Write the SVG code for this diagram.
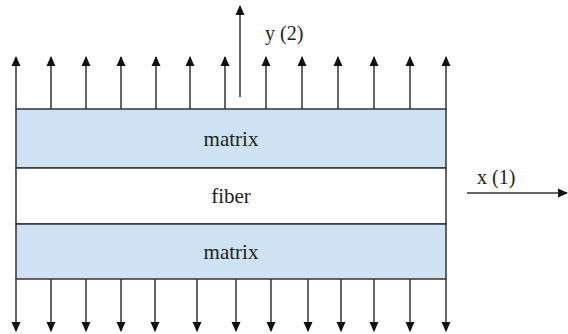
<svg xmlns="http://www.w3.org/2000/svg" width="568" height="334" viewBox="0 0 568 334">
<style>
.band{fill:#cfe2f3;stroke:#333;stroke-width:1.5}
.fib{fill:#fff;stroke:#333;stroke-width:1.5}
text{font-family:'Liberation Serif','Times New Roman',serif;fill:#222}
.lbl{font-size:21px;text-anchor:middle}
.ax{font-size:20px}
.arr{stroke:#333;stroke-width:1.5;fill:none}
</style>
<defs>
<marker id="ah" viewBox="0 0 10 10" refX="9" refY="5" markerWidth="10" markerHeight="10" markerUnits="userSpaceOnUse" orient="auto">
<path d="M0,0.5 L10,5 L0,9.5 Z" fill="#111"/>
</marker>
</defs>
<g id="matrix-top"><rect class="band" x="16" y="109" width="430" height="59"/><text class="lbl" x="231" y="146">matrix</text></g>
<g id="fiber"><rect class="fib" x="16" y="168" width="430" height="56"/><text class="lbl" x="231" y="203">fiber</text></g>
<g id="matrix-bottom"><rect class="band" x="16" y="224" width="430" height="55"/><text class="lbl" x="231" y="259">matrix</text></g>
<g id="connectors">
<g class="arr" marker-end="url(#ah)">
<path d="M16,109V57"/><path d="M51,109V57"/><path d="M86,109V57"/><path d="M121,109V57"/><path d="M156,109V57"/><path d="M190,109V57"/><path d="M225,109V57"/><path d="M266,109V57"/><path d="M302,109V57"/><path d="M338,109V57"/><path d="M374,109V57"/><path d="M410,109V57"/><path d="M446,109V57"/>
<path d="M16,279V331"/><path d="M51,279V331"/><path d="M86,279V331"/><path d="M121,279V331"/><path d="M155,279V331"/><path d="M197,279V331"/><path d="M236,279V331"/><path d="M271,279V331"/><path d="M308,279V331"/><path d="M341,279V331"/><path d="M374,279V331"/><path d="M410,279V331"/><path d="M446,279V331"/>
<path d="M240,97V6"/>
<path d="M467,193H567"/>
</g>
</g>
<g id="axis-y"><text class="ax" x="265" y="40">y (2)</text></g>
<g id="axis-x"><text class="ax" x="477" y="184">x (1)</text></g>
</svg>
